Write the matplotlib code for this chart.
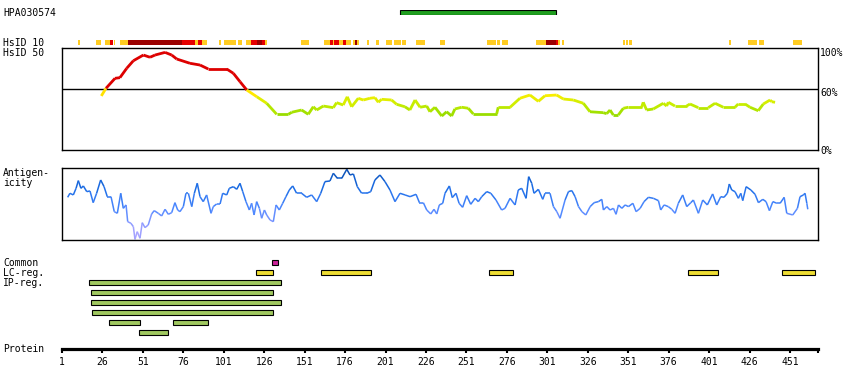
import numpy as np
import matplotlib
matplotlib.use('Agg')
import matplotlib.pyplot as plt
from matplotlib.collections import LineCollection
from matplotlib.colors import LinearSegmentedColormap

# ---- data (residue positions) ----
hpa_start, hpa_end = 210, 306

# HsID 10 stripe: level 1 = yellow, 2 = red, 3 = dark red
hs10_start = [10.7, 22, 27.6, 30.5, 33.1, 36.8, 41.8, 74.9, 83, 84.9, 87.3, 97.8, 100.9, 109.6,
              114.5, 117.6, 121.5, 124.4, 126.3, 148.5, 162.7, 166.5, 168.5, 169.1, 172, 174.5,
              176.3, 180.7, 181.9, 183.1, 189.7, 195.3, 201.5, 206.4, 210.9, 219.6, 234.4, 263.5,
              269.7, 272.8, 293.8, 299.9, 306.1, 307.4, 309.8, 347.7, 349.4, 351.4, 413.2, 425,
              431.8, 452.8, 457.1]
hs10_end = [11.9, 24.9, 30.5, 32.3, 33.8, 41.8, 74.9, 83, 84.9, 87.3, 90.4, 99.1, 108.4, 112.1,
            117.6, 121.5, 124.4, 126.3, 127.5, 153.5, 166.5, 168.5, 169.1, 172, 174.5, 176.3,
            179.4, 181.9, 183.1, 184.4, 190.9, 197.2, 205.1, 210.3, 213.4, 225.2, 237.5, 269.1,
            271.5, 276.5, 299.9, 306.1, 307.4, 308.6, 311.3, 349, 350.8, 353.3, 414.5, 430.5,
            434.9, 457.1, 458.4]
hs10_level = [1, 1, 1, 2, 1, 1, 3, 2, 1, 2, 1, 1, 1, 1,
              1, 2, 3, 2, 1, 1, 1, 2, 1, 2, 1, 2,
              1, 1, 3, 1, 1, 1, 1, 1, 1, 1, 1, 1,
              1, 1, 1, 3, 2, 1, 1, 1, 1, 1, 1, 1,
              1, 1, 1]

# HsID 50 curve (percent identity)
hs50_pos = [25.3, 28.2, 33.8, 36.8, 41, 45.1, 51.3, 55.4, 58.5, 64.7, 68.8, 71.9, 80.1, 86.3, 91.4,
            102.8, 106.9, 111, 115.2, 121.4, 127.5, 133.7, 140.9, 143, 149.1, 153.2, 156.3, 158.4,
            162.5, 168.7, 170.7, 174.8, 177.3, 180, 184.1, 187.2, 191.3, 194.4, 196.5, 198.5, 204.7,
            207.8, 212.9, 216, 219.2, 222.3, 226.4, 228.4, 231.5, 235.7, 238.7, 241.8, 243.8, 248,
            252.1, 255.2, 269.6, 270.6, 277.9, 284, 290.2, 295.4, 299.5, 306.7, 310.8, 317, 323.2,
            327.3, 335.5, 337.6, 339.7, 341.7, 344.8, 347.9, 351, 359.2, 360.2, 362.3, 366.4, 372.6,
            374.7, 375.7, 379.8, 387, 389.1, 394.2, 400.4, 404.6, 409.7, 416.9, 418.9, 423.1, 426.2,
            431.3, 434.4, 438.6, 439.6, 441.7]
hs50_val = [53.3, 60.8, 70.6, 71.2, 80.4, 87.8, 93.4, 91.2, 93.4, 96, 93.4, 89.5, 85.3, 83.6, 79.7,
            79.7, 75.5, 67.3, 59.1, 52.5, 46.1, 35.3, 35.3, 37.3, 39.5, 35.3, 42.7, 39.5,
            43.4, 41.8, 46.7, 44.4, 52.5, 42.7, 51, 49.3, 51, 51.6, 47.1, 50, 49.3,
            45.1, 42.7, 39.5, 49.3, 42.2, 43.4, 37.8, 42.2, 33.6, 37.8, 33.6, 40.5, 42.2,
            41.2, 35.6, 35.6, 42.2, 42.2, 51, 54.2, 48, 53.5, 54.2, 50.3, 49.3, 46.1,
            37.8, 36.9, 35.9, 39.5, 34.6, 34.6, 41.2, 42.2, 42.2, 47.1, 39.5, 40.5, 46.1,
            43.4, 47.1, 43.4, 43.4, 45.4, 41.8, 41.8, 46.1, 42.2, 42.2, 45.4, 45.4, 42.2,
            38.8, 45.4, 49.3, 47.6, 47.1]

# Antigenicity (relative, 0 = bottom of box, 1 = top)
ag_pos = [4.5, 5.9, 8, 9.7, 11.1, 12.7, 14.2, 16.3, 18.3, 20.3, 22.4, 24.9, 27, 29, 31.3, 33.3, 35.2,
          37.3, 38.9, 40.6, 41.6, 43.6, 45.1, 46.1, 47.5, 49.2, 50.6, 52.3, 54.3, 56.4, 58, 60.5,
          62.6, 64.7, 66.7, 68.8, 70.8, 72.5, 73.9, 76, 77.6, 79.1, 81.2, 82.8, 84.6, 86.3, 88.3,
          90.4, 93.1, 94.5, 96.6, 98.7, 100.3, 102.8, 104.4, 106.9, 109, 111, 112.7, 114.7, 116.8,
          118.2, 119.7, 121.3, 123, 124.4, 126.1, 127.5, 129.6, 131.6, 133.3, 135.3, 137.4, 139.4,
          141.5, 143.6, 146, 149.1, 152.2, 155.3, 158.4, 160.9, 163.5, 166.6, 168.7, 171.2, 173.9,
          177, 179, 181.1, 183.5, 186.2, 189.3, 191.8, 194.4, 197.5, 200.6, 203.7, 206.8, 209.9,
          213, 216.1, 219.8, 221.9, 224.3, 226.4, 228.9, 230.9, 232.6, 234.2, 236.3, 237.7, 240.4,
          242.2, 244.5, 246.4, 248.6, 251.1, 253.6, 256.3, 258.3, 260.4, 263.5, 266, 269.2, 272.7,
          274.8, 277.9, 281, 283, 285.1, 287.8, 289.4, 291.3, 292.7, 295.4, 298.1, 299.5, 302.6,
          304.7, 306.8, 308.8, 311.9, 314, 316.1, 318.1, 320.2, 322.3, 324.7, 327.4, 329.9, 332.5,
          334.6, 335.6, 337.7, 339.7, 341.8, 343.4, 344.9, 347, 349, 351.1, 353.8, 355.8, 358.3,
          360.7, 363.4, 366.5, 369.6, 371, 373.1, 375.7, 377.8, 379.9, 381.9, 384.6, 387.1, 389.6,
          391.2, 394.3, 397, 399.8, 403.1, 405.6, 408.1, 410.1, 412.2, 413.4, 414.9, 416.9, 419,
          420.5, 421.7, 423.8, 426.7, 429.3, 431.4, 434.1, 436.1, 438.2, 440.3, 442.8, 444.8, 447.3,
          448.9, 452.6, 455.5, 457.1, 459.2, 460.2, 461.3, 461.9]
ag_val = [0.597, 0.653, 0.63, 0.722, 0.829, 0.722, 0.755, 0.676, 0.685, 0.523, 0.653, 0.838, 0.745,
          0.606, 0.606, 0.398, 0.375, 0.653, 0.444, 0.491, 0.259, 0.236, 0.19, 0.014, 0.12, 0.028,
          0.245, 0.176, 0.213, 0.366, 0.412, 0.375, 0.338, 0.431, 0.361, 0.384, 0.523, 0.421, 0.398,
          0.468, 0.653, 0.653, 0.468, 0.653, 0.792, 0.606, 0.537, 0.63, 0.375, 0.468, 0.505, 0.505,
          0.653, 0.63, 0.722, 0.745, 0.708, 0.792, 0.676, 0.537, 0.421, 0.514, 0.352, 0.537, 0.444,
          0.306, 0.421, 0.352, 0.282, 0.259, 0.491, 0.421, 0.514, 0.606, 0.699, 0.755, 0.653, 0.653,
          0.597, 0.63, 0.537, 0.653, 0.815, 0.824, 0.931, 0.861, 0.861, 0.986, 0.907, 0.921, 0.745,
          0.653, 0.653, 0.676, 0.838, 0.907, 0.815, 0.699, 0.537, 0.653, 0.63, 0.606, 0.639, 0.523,
          0.523, 0.421, 0.366, 0.431, 0.366, 0.491, 0.514, 0.653, 0.755, 0.593, 0.653, 0.514, 0.458,
          0.62, 0.5, 0.583, 0.537, 0.606, 0.676, 0.653, 0.56, 0.421, 0.444, 0.583, 0.491, 0.699,
          0.722, 0.583, 0.884, 0.792, 0.653, 0.708, 0.569, 0.653, 0.653, 0.468, 0.398, 0.306, 0.56,
          0.676, 0.69, 0.606, 0.468, 0.398, 0.352, 0.468, 0.523, 0.537, 0.569, 0.421, 0.468, 0.421,
          0.444, 0.361, 0.491, 0.444, 0.491, 0.468, 0.514, 0.398, 0.444, 0.537, 0.597, 0.583, 0.551,
          0.421, 0.491, 0.468, 0.431, 0.375, 0.514, 0.63, 0.468, 0.523, 0.56, 0.375, 0.56, 0.491,
          0.644, 0.491, 0.606, 0.597, 0.653, 0.782, 0.699, 0.676, 0.583, 0.653, 0.551, 0.745, 0.699,
          0.639, 0.523, 0.569, 0.537, 0.412, 0.537, 0.514, 0.514, 0.597, 0.375, 0.352, 0.444, 0.606,
          0.63, 0.653, 0.514, 0.431]

# feature tracks
common_start, common_end = [131], [134.5]
lc_start = [121, 161.3, 265, 388, 446.2]
lc_end = [131.2, 192.2, 279.5, 406.2, 466.2]
ip_row = [2, 3, 4, 5, 6, 6, 7]
ip_start = [17.9, 19.1, 19.1, 19.7, 30.2, 69.8, 48.8]
ip_end = [136.2, 131.2, 136.2, 131.2, 49, 91.1, 66.3]

tick_pos = [1, 26, 51, 76, 101, 126, 151, 176, 201, 226, 251, 276, 301, 326, 351, 376, 401, 426, 451]
seq_len = 468

# ---- layout ----
W, H = 850, 390
L, R = 61.5, 817.5
X0, X1 = 0.7, 467.9
FONT = dict(family='DejaVu Sans Mono', size=7, color='black')

fig = plt.figure(figsize=(W / 100, H / 100), dpi=100)


def px_axes(top, bottom):
    ax = fig.add_axes([L / W, 1 - bottom / H, (R - L) / W, (bottom - top) / H])
    ax.set_xlim(X0, X1)
    return ax


def bare(ax):
    for s in ax.spines.values():
        s.set_visible(False)
    ax.set_xticks([])
    ax.set_yticks([])
    ax.patch.set_alpha(0)


def label(y, s):
    fig.text(3 / W, 1 - y / H, s, ha='left', va='center', **FONT)


# HPA antigen bar
ax = px_axes(10, 15)
bare(ax)
ax.set_ylim(0, 1)
ax.barh(0.5, hpa_end - hpa_start, left=hpa_start, height=1, color='#1f9e1f',
        edgecolor='black', linewidth=0.8)
label(12.5, 'HPA030574')

# HsID 10 stripe
ax = px_axes(40, 45)
bare(ax)
ax.set_ylim(0, 1)
lvl_col = {1: '#ffcc22', 2: '#e60000', 3: '#9b0000'}
ax.barh([0.5] * len(hs10_start), np.array(hs10_end) - np.array(hs10_start), left=hs10_start,
        height=1, color=[lvl_col[v] for v in hs10_level], linewidth=0)
label(42.5, 'HsID 10')

# HsID 50
ax = px_axes(48.3, 150.3)
ax.set_ylim(0, 100)
ax.set_xticks([])
ax.set_yticks([])
for s in ax.spines.values():
    s.set_linewidth(1.0)
ax.axhline(60, color='black', lw=1.0)
hs_cmap = LinearSegmentedColormap.from_list('hs', [(0, '#7fd400'), (0.5, '#c8ee00'), (0.83, '#ffee00'), (1, '#ffd000')])
pts = np.column_stack([hs50_pos, hs50_val])
segs = np.stack([pts[:-1], pts[1:]], axis=1)
mid = (np.array(hs50_val[:-1]) + np.array(hs50_val[1:])) / 2
cols = ['#dd0000' if m > 60 else hs_cmap(np.clip((m - 30) / 30, 0, 1)) for m in mid]
ax.add_collection(LineCollection(segs, colors=cols, linewidths=2.0, capstyle='butt'))
label(53, 'HsID 50')
fig.text(820 / W, 1 - 48.5 / H, '100%', ha='left', va='top', **FONT)
fig.text(820 / W, 1 - 87.5 / H, '60%', ha='left', va='top', **FONT)
fig.text(820 / W, 1 - 146.5 / H, '0%', ha='left', va='top', **FONT)

# Antigenicity
ax = px_axes(168.3, 240.3)
ax.set_ylim(0, 1)
ax.set_xticks([])
ax.set_yticks([])
for s in ax.spines.values():
    s.set_linewidth(1.0)
ag_cmap = LinearSegmentedColormap.from_list('ag', [(0, '#b4a8ff'), (0.25, '#8899ff'), (0.45, '#4d88ff'),
                                                   (0.7, '#1f6fe8'), (0.85, '#1260d0'), (1, '#0a4aa8')])
pts = np.column_stack([ag_pos, ag_val])
segs = np.stack([pts[:-1], pts[1:]], axis=1)
mid = (np.array(ag_val[:-1]) + np.array(ag_val[1:])) / 2
ax.add_collection(LineCollection(segs, colors=ag_cmap(mid), linewidths=1.1))
label(173, 'Antigen-')
label(183, 'icity')

# feature tracks
ax = px_axes(257.5, 337.5)
bare(ax)
ax.set_ylim(7.5, -0.5)
bh = 0.45
ax.barh([0] * len(common_start), np.array(common_end) - np.array(common_start), left=common_start,
        height=bh, color='#cc2299', edgecolor='black', linewidth=0.8)
ax.barh([1] * len(lc_start), np.array(lc_end) - np.array(lc_start), left=lc_start,
        height=bh, color='#eedd33', edgecolor='black', linewidth=0.8)
ax.barh(ip_row, np.array(ip_end) - np.array(ip_start), left=ip_start,
        height=bh, color='#a0c860', edgecolor='black', linewidth=0.8)
label(262.5, 'Common')
label(272.5, 'LC-reg.')
label(282.5, 'IP-reg.')

# protein axis
ax = fig.add_axes([L / W, 1 - 349 / H, (R - L) / W, 1 / H])
ax.set_xlim(X0, X1)
for k in ['top', 'left', 'right']:
    ax.spines[k].set_visible(False)
ax.spines['bottom'].set_linewidth(2.3)
ax.patch.set_alpha(0)
ax.set_yticks([])
ax.set_xticks(tick_pos + [seq_len])
ax.set_xticklabels([str(t) for t in tick_pos] + [''], fontfamily='DejaVu Sans Mono', fontsize=7)
ax.tick_params(axis='x', direction='out', length=3, width=1.5, pad=3)
label(349.5, 'Protein')

fig.savefig('out.png', dpi=100)
